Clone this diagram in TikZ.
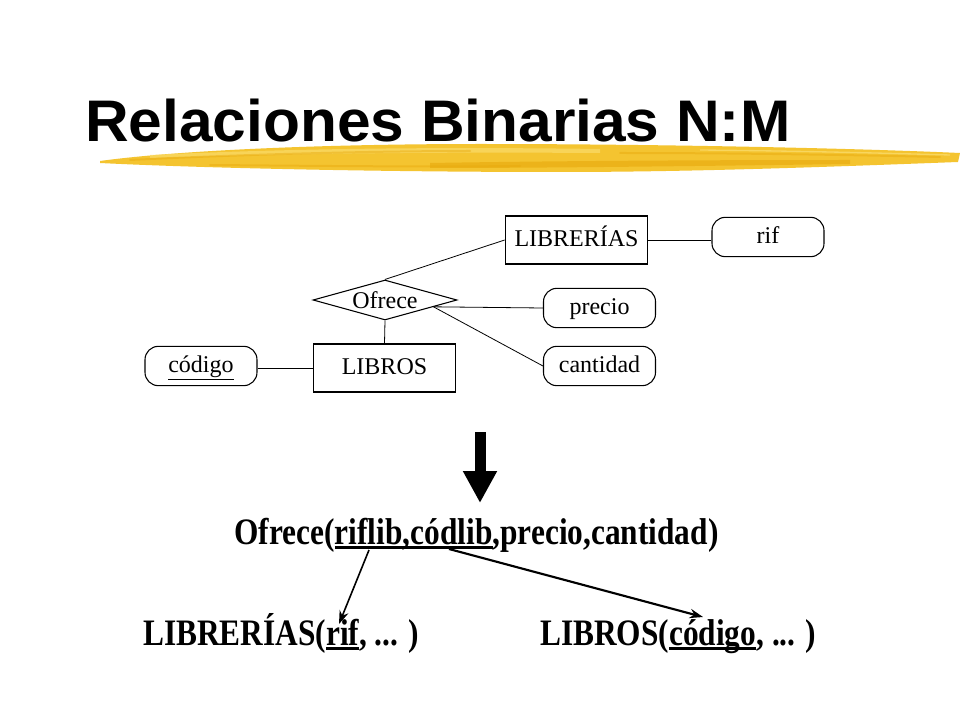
\documentclass[tikz,border=0pt]{standalone}
\usepackage{fontspec}
\usepackage{graphicx}
\setmainfont{Liberation Serif}
\newfontfamily\titulofont{Liberation Sans}
\usetikzlibrary{shapes.geometric,arrows.meta}
\definecolor{brocha}{HTML}{F4C430}
\definecolor{brochaosc}{HTML}{E8A90C}
\definecolor{brochaclara}{HTML}{FADB6A}
\newcommand{\clave}[1]{\setbox0\hbox{#1}\rlap{\rule[-3.6pt]{\wd0}{1.8pt}}#1}
\newcommand{\angosto}[1]{\scalebox{0.84}[1]{#1}}

\begin{document}
\begin{tikzpicture}[x=0.75pt,y=-0.75pt,
	font=\fontsize{18}{20}\selectfont,
	entidad/.style={draw, line width=0.8pt, minimum width=107pt, minimum height=36pt, inner sep=0pt, text height=11pt, text depth=1pt},
	atributo/.style={draw, line width=0.8pt, rounded corners=10pt, minimum width=84pt, minimum height=29.5pt, inner sep=0pt, text height=11pt, text depth=1pt},
	relacion/.style={draw, diamond, line width=0.8pt, aspect=3.6, minimum width=108pt, minimum height=30pt, inner sep=0pt},
	linea/.style={line width=0.6pt},
	trazo/.style={brochaosc, opacity=0.45, line width=1.5pt, line cap=round},
	tabla/.style={anchor=base west, inner sep=0pt, font=\fontsize{28}{32}\selectfont\bfseries},
	fk/.style={line width=1.6pt, -{Stealth[length=10pt,width=7pt]}}]
	\useasboundingbox (0,0) rectangle (960,720);
	\fill[white] (0,0) rectangle (960,720);
	% brocha del titulo
	\fill[brocha] (100,161) .. controls (180,150) and (330,144) .. (480,144) .. controls (650,144) and (850,148) .. (960,153) -- (958,162) .. controls (850,166) and (700,172) .. (560,172) .. controls (380,172) and (200,168) .. (100,163) -- cycle;
	\fill[brochaclara, opacity=0.7] (150,155) .. controls (300,148) and (450,147) .. (600,149) -- (600,153) .. controls (450,152) and (300,153) .. (150,158) -- cycle;
	\fill[brochaosc, opacity=0.6] (430,163) .. controls (550,161) and (700,160) .. (850,160) -- (850,164) .. controls (700,166) and (550,168) .. (430,168) -- cycle;
	\draw[trazo] (130,160) .. controls (250,154) and (380,151) .. (470,151);
	\draw[trazo] (210,165) .. controls (330,166) and (420,167) .. (520,166);
	\draw[trazo] (620,153) .. controls (740,153) and (850,155) .. (940,157);
	\draw[brochaclara, line width=1pt, opacity=0.8] (700,150) .. controls (800,151) and (880,153) .. (950,155);
	\node[anchor=base west, inner sep=0pt, font=\titulofont\fontsize{44}{48}\selectfont\bfseries] (titulo) at (85,142) {\scalebox{1.03}[1]{Relaciones Binarias N:M}};
	% diagrama E-R
	\node[entidad] (librerias) at (576.5,240) {LIBRERÍAS};
	\node[atributo] (rif) at (768,237) {rif};
	\node[relacion] (ofrece) at (385,300) {Ofrece};
	\node[atributo] (precio) at (599.5,308) {precio};
	\node[atributo] (cantidad) at (599.5,366) {cantidad};
	\node[entidad] (libros) at (384.5,368) {LIBROS};
	\node[atributo] (codigo) at (201,366) {\underline{código}};
	\draw[linea] (ofrece.north) -- (librerias.west);
	\draw[linea] (librerias.east) -- (librerias.east -| rif.west);
	\draw[linea] (ofrece.-8) -- (precio.west);
	\draw[linea] (ofrece.-8) -- (cantidad.west);
	\draw[linea] (ofrece.south) -- (libros.north);
	\draw[linea] (libros.west) -- (libros.west -| codigo.east);
	% paso a tablas
	\coordinate (flechaini) at (480,432);
	\coordinate (flechafin) at (480,503);
	\draw[line width=8.25pt, -{Triangle[length=24pt,width=24pt]}] (flechaini) -- (flechafin);
	\node[tabla, anchor=base] (ofrecetab) at (476.5,544) {\angosto{Ofrece(\clave{riflib,códlib},precio,cantidad)}};
	\node[tabla] (libreriastab) at (143,645) {\angosto{LIBRERÍAS(\clave{rif}, ... )}};
	\node[tabla] (librostab) at (540,645) {\angosto{LIBROS(\clave{código}, ... )}};
	\coordinate (fk1) at (369,550);
	\coordinate (pk1) at (339,624);
	\coordinate (fk2) at (449,549);
	\coordinate (pk2) at (703,617);
	\draw[fk, line width=1.2pt] (fk1) -- (pk1);
	\draw[fk] (fk2) -- (pk2);
\end{tikzpicture}
\end{document}
